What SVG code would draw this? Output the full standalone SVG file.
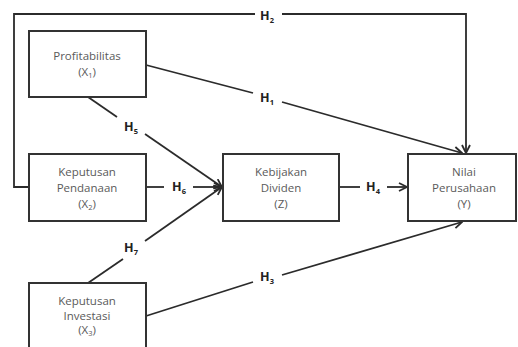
<svg xmlns="http://www.w3.org/2000/svg" width="518" height="347" viewBox="0 0 518 347">
<style>
.box{fill:#fff;stroke:#333;stroke-width:2}
.ln{fill:none;stroke:#2b2b2b;stroke-width:1.8}
.ar{marker-end:url(#arr)}
.t{font-family:"Open Sans","DejaVu Sans",sans-serif;font-size:11.5px;fill:#5a5a5a;text-anchor:middle}
.h{font-family:"Open Sans","DejaVu Sans",sans-serif;font-size:12.5px;font-weight:bold;fill:#222;text-anchor:middle}
.s{font-size:7.5px}
</style>
<defs>
<marker id="arr" viewBox="0 0 10 10" refX="9" refY="5" markerWidth="10" markerHeight="10" markerUnits="userSpaceOnUse" orient="auto">
<path d="M1,1 L9,5 L1,9" fill="none" stroke="#2b2b2b" stroke-width="1.8"/>
</marker>
</defs>
<rect width="518" height="347" fill="#fff"/>
<g id="connectors">
<polyline class="ln" points="29,187 14,187 14,14 255,14"/>
<polyline class="ln ar" points="282,14 466,14 466,153"/>
<line class="ln" x1="146" y1="65" x2="253" y2="93"/>
<line class="ln ar" x1="282" y1="102" x2="462" y2="153"/>
<line class="ln" x1="88" y1="97" x2="117" y2="117"/>
<line class="ln ar" x1="145" y1="134" x2="222" y2="187"/>
<line class="ln" x1="146" y1="187" x2="164" y2="187"/>
<line class="ln ar" x1="193" y1="187" x2="222" y2="187"/>
<line class="ln" x1="88" y1="283" x2="123" y2="259"/>
<line class="ln ar" x1="145" y1="241" x2="222" y2="187"/>
<line class="ln" x1="146" y1="316" x2="253" y2="282"/>
<line class="ln ar" x1="282" y1="275" x2="462" y2="222"/>
<line class="ln" x1="340" y1="187" x2="360" y2="187"/>
<line class="ln ar" x1="387" y1="187" x2="407" y2="187"/>
<text class="h" x="267" y="20">H<tspan class="s" dy="3">2</tspan></text>
<text class="h" x="267" y="102">H<tspan class="s" dy="3">1</tspan></text>
<text class="h" x="131" y="131">H<tspan class="s" dy="3">5</tspan></text>
<text class="h" x="179" y="191">H<tspan class="s" dy="3">6</tspan></text>
<text class="h" x="131" y="252">H<tspan class="s" dy="3">7</tspan></text>
<text class="h" x="267" y="281">H<tspan class="s" dy="3">3</tspan></text>
<text class="h" x="373" y="191">H<tspan class="s" dy="3">4</tspan></text>
</g>
<g id="x1">
<rect class="box" x="29" y="31" width="117" height="66"/>
<text class="t" x="87" y="60">Profitabilitas</text>
<text class="t" x="87" y="76">(X<tspan class="s" dy="2">1</tspan><tspan dy="-2">)</tspan></text>
</g>
<g id="x2">
<rect class="box" x="29" y="154" width="117" height="67"/>
<text class="t" x="87" y="176">Keputusan</text>
<text class="t" x="87" y="192">Pendanaan</text>
<text class="t" x="87" y="208">(X<tspan class="s" dy="2">2</tspan><tspan dy="-2">)</tspan></text>
</g>
<g id="x3">
<rect class="box" x="29" y="283" width="117" height="70"/>
<text class="t" x="87" y="305">Keputusan</text>
<text class="t" x="87" y="320">Investasi</text>
<text class="t" x="87" y="334">(X<tspan class="s" dy="2">3</tspan><tspan dy="-2">)</tspan></text>
</g>
<g id="z">
<rect class="box" x="223" y="154" width="116" height="67"/>
<text class="t" x="281" y="176">Kebijakan</text>
<text class="t" x="281" y="192">Dividen</text>
<text class="t" x="281" y="208">(Z)</text>
</g>
<g id="y">
<rect class="box" x="408" y="154" width="108" height="67"/>
<text class="t" x="464" y="176">Nilai</text>
<text class="t" x="464" y="192">Perusahaan</text>
<text class="t" x="464" y="208">(Y)</text>
</g>
</svg>
